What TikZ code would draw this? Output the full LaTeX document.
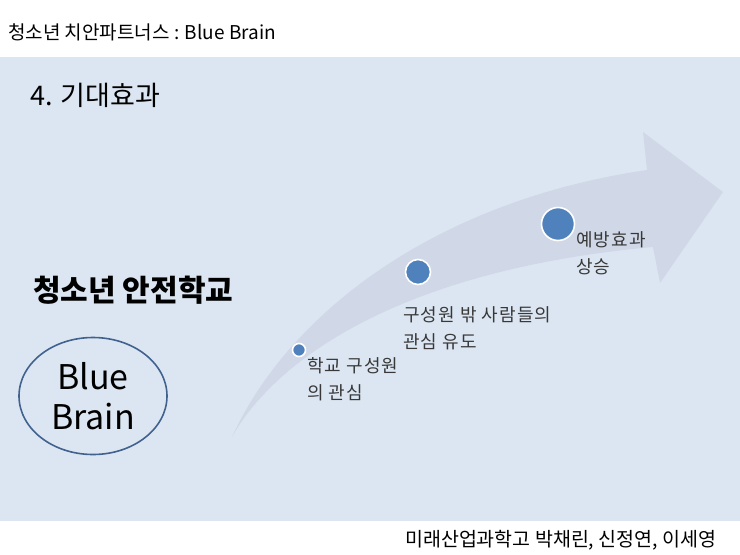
\documentclass[tikz,border=0pt]{standalone}
\usepackage{fontspec}
\setmainfont{Noto Sans CJK KR}
\newfontfamily\spacedfont[LetterSpace=6]{Noto Sans CJK KR}
\usepackage{xcolor}
\usetikzlibrary{shapes.geometric}
\definecolor{bandblue}{HTML}{DCE6F2}
\definecolor{arrowblue}{HTML}{D0D8E8}
\definecolor{dotblue}{HTML}{4F81BD}
\definecolor{ringblue}{HTML}{41628F}
\tikzset{
  dot/.style={circle, fill=dotblue, draw=white, line width=1.6pt, inner sep=0pt},
  steptext/.style={anchor=west, align=left, inner sep=0pt, text=black!78,
    font=\spacedfont\fontsize{18}{27}\selectfont},
}

\begin{document}
\begin{tikzpicture}[x=1pt,y=-1pt]
      \useasboundingbox (0,0) rectangle (740,555);
      \fill[bandblue] (0,57) rectangle (740,521);

      % curved arrow
      \fill[arrowblue] (232,437) .. controls (290,310) and (440,200) .. (647,170)
        -- (643,132) -- (723,192) -- (660,283) -- (653,247)
        .. controls (400,270) and (275,360) .. (232,437) -- cycle;

      \node[anchor=west, inner sep=0pt, font=\fontsize{19}{19}\selectfont] (hdr) at (8,32) {청소년 치안파트너스 : Blue Brain};
      \node[anchor=west, inner sep=0pt, font=\fontsize{27}{27}\selectfont] (sec) at (30,95) {4. 기대효과};
      \node[anchor=west, inner sep=0pt, font=\bfseries\fontsize{30}{30}\selectfont] (ttl) at (33,290) {청소년 안전학교};

      \node[ellipse, draw=ringblue, line width=1.6pt, minimum width=148pt, minimum height=117pt,
        align=center, font=\fontsize{34}{40}\selectfont] (bb) at (93,396) {Blue\\Brain};

      \node[dot, minimum size=13pt] (d1) at (299,350) {};
      \node[dot, minimum size=25pt] (d2) at (418,272) {};
      \node[dot, minimum size=33pt] (d3) at (558,224) {};

      \node[steptext] (l1) at (307,379) {학교 구성원\\의 관심};
      \node[steptext] (l2) at (403,328) {구성원 밖 사람들의\\관심 유도};
      \node[steptext] (l3) at (576,253) {예방효과\\상승};

      \node[anchor=west, inner sep=0pt, font=\fontsize{19.5}{19.5}\selectfont] (ftr) at (405,540) {미래산업과학고 박채린, 신정연, 이세영};
    \end{tikzpicture}
\end{document}
